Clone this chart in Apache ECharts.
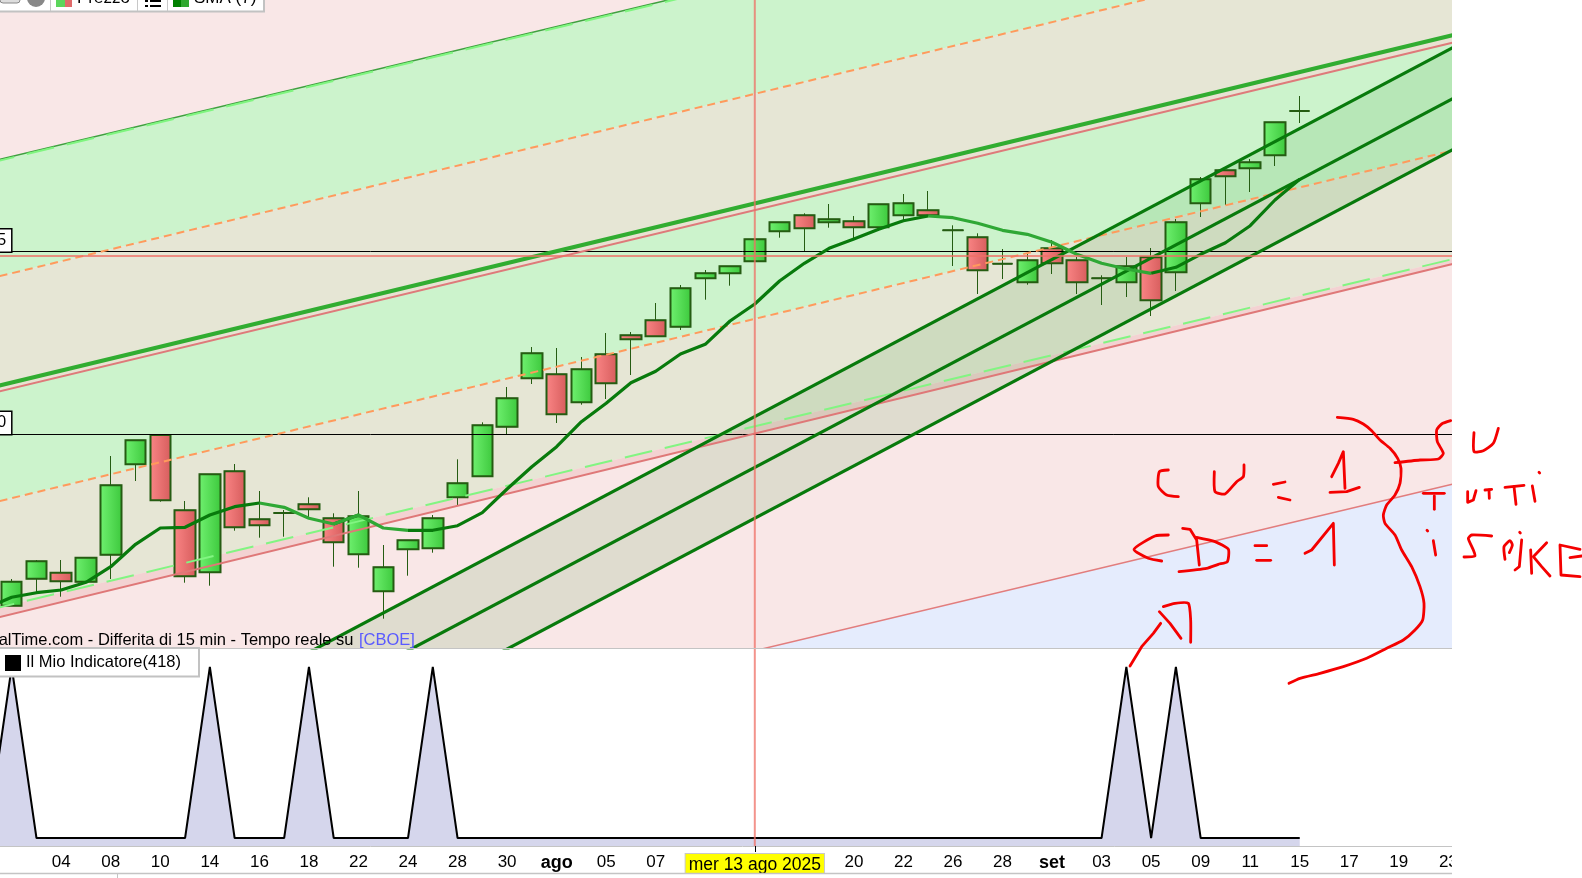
<!DOCTYPE html>
<html><head><meta charset="utf-8">
<script src="https://cdn.jsdelivr.net/npm/echarts@6/dist/echarts.min.js"></script>
<style>html,body{margin:0;padding:0;background:#fff;overflow:hidden}#c{width:1582px;height:878px}</style>
</head><body><div id="c"></div>
<script>
// session labels, first entry sits just left of the visible window
const tickLabels = ['lug','','','04','','08','','10','','14','','16','','18','','22','','24','','28','','30','','ago','','05','','07','','','','mer 13 ago 2025','','','','20','','22','','26','','28','','set','','03','','05','','09','','11','','15','','17','','19','','23',''];
const monthLabels = ['lug','ago','set'];
const crosshairLabel = 'mer 13 ago 2025';
const crosshairIndex = 31;
const lastIndex = 60;

// [open, close, low, high]
const candles = [
[6125,6128,6120,6130],
[6128.3,6152.3,6128.3,6155],[6155.3,6172.7,6141.3,6174],[6161.3,6152.7,6137.3,6174],[6152.3,6176.3,6152.3,6176.3],
[6179.3,6248.7,6155,6278],[6269.7,6293.7,6253,6293.7],[6299,6233.7,6232.3,6299],[6223.7,6157.7,6151.3,6233],
[6161.7,6259.7,6148.3,6259.7],[6262.7,6206.7,6203.3,6270],[6214.7,6208.7,6196.3,6243],[6221,6221,6197.3,6224],
[6229.7,6224.7,6216.7,6236.7],[6215.7,6191.7,6167.3,6220.7],[6179.7,6217.7,6166.3,6243],[6142.7,6166.7,6115.3,6189],
[6184.7,6193.7,6158.3,6193.7],[6185.7,6215.7,6181.3,6219],[6236.7,6250.7,6229,6274.7],[6257.7,6308.7,6257.7,6311.7],
[6307.3,6335.7,6300,6347],[6355.7,6380.7,6350,6387],[6359.7,6319.7,6311,6386],[6331.7,6364.7,6329.3,6377],
[6379.7,6350.7,6335,6401],[6398.7,6394.7,6359,6402],[6413.7,6397.7,6397.7,6431],[6407.3,6445.7,6404,6449],
[6455.7,6460.7,6434.3,6464],[6460.7,6467.7,6448.3,6467.7],[6472.7,6494.7,6472.7,6494.7],[6502.7,6511.7,6496.3,6511.7],
[6518.7,6505.7,6483,6520.7],[6511.7,6514.7,6506.3,6530],[6512.7,6506.7,6495.3,6518],[6506.7,6529.7,6505,6529.7],
[6518.7,6530.7,6514,6540],[6523.7,6518.7,6518.7,6543],[6503.7,6503.7,6468,6508.7],[6496.7,6463.7,6440,6500.7],
[6470.3,6470.3,6455,6485],[6451.7,6473.7,6449.3,6481],[6485.7,6470.7,6460,6494],[6473.7,6451.7,6440,6477],
[6455.7,6455.7,6429,6458.7],[6451.7,6467.7,6437,6477],[6476.7,6433.7,6418,6486],[6461.7,6511.7,6443,6515],
[6530.7,6554.7,6517,6557],[6563.7,6557.7,6529,6563.7],[6565.7,6571.7,6542,6575],[6578.7,6611.7,6568,6611.7],
[6623,6623,6611,6638]];

const sma7 = [6126,6136.7,6141.3,6144,6151.7,6167.3,6189.7,6206,6206.7,6219,6227.3,6231,6226.7,6215.7,6210,6219,6206,6203.7,6203.7,6208.3,6221.3,6245,6267.3,6287.3,6312.3,6330.7,6351.3,6362.7,6380,6389.7,6413,6430,6453,6470.7,6485.7,6495,6504.7,6513.3,6518,6516.3,6510.7,6503.7,6499.7,6491.7,6479.7,6470.7,6465,6460.7,6466.7,6479.7,6491.3,6508.3,6534,6554.7];

const indicator = [0,1,0,0,0,0,0,0,0,1,0,0,0,1,0,0,0,0,1,0,0,0,0,0,0,0,0,0,0,0,0,0,0,0,0,0,0,0,0,0,0,0,0,0,0,0,1,0,1,0,0,0,0,0];

// regression-channel lines: value at first and at last session slot
const topLine = [6571.6,6926];
const orangeUp = [6454.8,6813.5];
const thickLine = [6345.4,6703.8];
const pinkUp = [6339.6,6696.2];
const orangeLow = [6229.9,6588.4];
const greenDash = [6123.6,6479.8];
const pinkLow = [6113.8,6475];
const lowestLine = [5900.1,6254.7];
const channelA = [5911.5,6697.2];
const channelB = [5860.9,6646.1];
const channelC = [5810.3,6595.1];
const floorLine = [4000,4000];

const priceLevels = [6300,6482.5];
const crossPrice = 6478;
const priceMin = 6086, priceMax = 6734;
const indMin = -0.0468, indMax = 1.111;

const GREEN_DARK='#087a0c', GREEN_FALL='#2fa835', BORDER='#255c12';
const grad = (a,b)=>({type:'linear',x:0,y:0,x2:1,y2:0,colorStops:[{offset:0,color:a},{offset:1,color:b}]});
const upFill = grad('#70f170','#3cc83c'), dnFill = grad('#fb8686','#d65c5c');

const bands = [
 [topLine,orangeUp,'#ccf3cc'],
 [orangeUp,thickLine,'#e6e6d5'],
 [thickLine,pinkUp,'#e8e2d2'],
 [pinkUp,orangeLow,'#ccf3cc'],
 [orangeLow,greenDash,'#e6e6d5'],
 [greenDash,pinkLow,'#f3d2d2'],
 [lowestLine,floorLine,'#e5ecfd'],
 [channelA,channelB,'rgba(0,128,0,0.1)'],
 [channelB,channelC,'rgba(0,128,0,0.1)']
];

const trend = (arr,style,z)=>({type:'line',xAxisIndex:0,yAxisIndex:0,symbol:'none',silent:true,animation:false,z:z||5,
  lineStyle:style,data:[[0,arr[0]],[lastIndex,arr[1]]]});

function isUp(i){ // does the SMA segment ending or starting at i rise
  return (i>0 && sma7[i]>=sma7[i-1]) || (i<sma7.length-1 && sma7[i+1]>=sma7[i]);
}
function isDown(i){
  return (i>0 && sma7[i]<sma7[i-1]) || (i<sma7.length-1 && sma7[i+1]<sma7[i]);
}
const smaUp = sma7.map((v,i)=>isUp(i)?v:null);
const smaDown = sma7.map((v,i)=>isDown(i)?v:null);

const z5=pts=>pts.map(p=>[1100+p[0]/3,400+p[1]/3]);
const strokes=[
 [[712,52],[760,58],[790,72],[815,92],[840,120],[870,145],[893,175],[903,205],[900,250],[885,285],[860,315],[850,345],[855,370],[885,405],[905,450],[935,500],[960,560],[972,610],[968,660],[945,690],[910,720],[860,745],[800,775],[730,800],[660,820],[600,835],[567,850]],
 [[885,188],[960,180],[1015,177],[1030,160],[1012,125],[1010,90],[1025,72],[1052,62]],
 [[1122,98],[1122,155],[1150,152],[1180,130],[1195,85]],
 [[970,280],[1033,280]],[[1003,288],[1003,328]],
 [[1103,275],[1103,307],[1120,300],[1128,272]],
 [[1155,270],[1175,268]],[[1167,270],[1168,295]],
 [[1215,262],[1272,256]],[[1242,260],[1248,313]],
 [[1297,258],[1305,304]],[[1317,217],[1319,219]],
 [[981,391],[983,393]],[[1000,422],[1007,465]],
 [[1175,408],[1115,405],[1105,415],[1120,450],[1125,468],[1092,471]],
 [[1215,478],[1212,440],[1230,422],[1237,435],[1228,458]],
 [[1259,397],[1261,399]],[[1265,420],[1258,500],[1245,510]],
 [[1292,450],[1295,520]],[[1340,428],[1300,470],[1325,500],[1350,528]],
 [[1440,448],[1380,435],[1383,525],[1440,530]],[[1410,473],[1445,468]],
 [[205,210],[178,215],[175,260],[200,285],[235,290]],
 [[343,215],[345,275],[375,282],[410,245],[430,230],[432,195]],
 [[520,253],[555,246]],[[535,292],[570,300]],
 [[695,230],[715,190],[730,155],[735,265]],[[690,277],[740,275],[778,262]],
 [[205,405],[165,408],[102,448],[145,475],[185,483]],
 [[248,385],[270,388],[290,420],[298,495]],[[290,412],[345,425],[385,448],[382,485],[355,493],[320,505],[237,515]],
 [[465,437],[500,437]],[[470,481],[512,481]],
 [[615,460],[635,450],[700,370],[703,495]],
 [[90,798],[125,740],[160,700],[182,670]],
 [[190,620],[225,610],[265,610],[272,660],[272,727]],
 [[178,635],[210,670],[243,715]]
];
const FONT='"Liberation Sans", Arial, sans-serif';
const graphicEls=[
 {type:'rect',z:50,shape:{x:1452,y:0,width:130,height:878},style:{fill:'#fff'}},
 {type:'rect',z:51,shape:{x:0,y:873,width:1452,height:5},style:{fill:'#fff'}},
 {type:'line',z:51,shape:{x1:0,y1:873.5,x2:1452,y2:873.5},style:{stroke:'#c4c4c4',lineWidth:1.5}},
 {type:'line',z:51,shape:{x1:117.5,y1:873,x2:117.5,y2:878},style:{stroke:'#c4c4c4',lineWidth:1}},
 {type:'line',z:51,shape:{x1:755.5,y1:846,x2:755.5,y2:852},style:{stroke:'#000',lineWidth:1}},
 // toolbar
 {type:'rect',z:60,shape:{x:-3,y:-10,width:267,height:21.5},style:{fill:'#fff',stroke:'#c2c2c2',lineWidth:2}},
 {type:'rect',z:61,shape:{x:0,y:-4,width:20,height:7,r:3},style:{fill:'#ddd',stroke:'#888',lineWidth:1}},
 {type:'circle',z:61,shape:{cx:36,cy:-2,r:9},style:{fill:'#888'}},
 {type:'line',z:61,shape:{x1:50.5,y1:0,x2:50.5,y2:11},style:{stroke:'#c8c8c8',lineWidth:1}},
 {type:'line',z:61,shape:{x1:137.5,y1:0,x2:137.5,y2:11},style:{stroke:'#c8c8c8',lineWidth:1}},
 {type:'line',z:61,shape:{x1:167.5,y1:0,x2:167.5,y2:11},style:{stroke:'#c8c8c8',lineWidth:1}},
 {type:'rect',z:61,shape:{x:56,y:0,width:9,height:7},style:{fill:'#5cd65c'}},
 {type:'rect',z:61,shape:{x:65,y:0,width:7,height:7},style:{fill:'#e06a6a'}},
 {type:'text',z:61,style:{x:77,y:7,text:'Prezzo',font:'17px '+FONT,fill:'#000',verticalAlign:'bottom'}},
 {type:'rect',z:61,shape:{x:145,y:0,width:3,height:2},style:{fill:'#000'}},
 {type:'rect',z:61,shape:{x:150,y:0,width:11,height:2},style:{fill:'#000'}},
 {type:'rect',z:61,shape:{x:145,y:5,width:3,height:2},style:{fill:'#000'}},
 {type:'rect',z:61,shape:{x:150,y:5,width:11,height:2},style:{fill:'#000'}},
 {type:'rect',z:61,shape:{x:173,y:0,width:8,height:7},style:{fill:'#008000'}},
 {type:'rect',z:61,shape:{x:181,y:0,width:8,height:7},style:{fill:'#2fa82f'}},
 {type:'text',z:61,style:{x:194,y:7,text:'SMA (7)',font:'17px '+FONT,fill:'#000',verticalAlign:'bottom'}},
 // source line
 {type:'text',z:20,style:{x:353.5,y:640.5,text:'ProRealTime.com - Differita di 15 min - Tempo reale su',font:'16.5px '+FONT,fill:'#000',align:'right',verticalAlign:'middle'}},
 {type:'text',z:20,style:{x:359,y:640.5,text:'[CBOE]',font:'16.5px '+FONT,fill:'#5a5aff',align:'left',verticalAlign:'middle'}},
 // indicator legend
 {type:'rect',z:60,shape:{x:-3,y:648,width:202,height:28.5},style:{fill:'#fff',stroke:'#c2c2c2',lineWidth:2}},
 {type:'rect',z:61,shape:{x:5,y:655,width:16,height:16},style:{fill:'#000'}},
 {type:'text',z:61,style:{x:26,y:662,text:'Il Mio Indicatore(418)',font:'16.5px '+FONT,fill:'#000',verticalAlign:'middle'}},
 // pane divider
 {type:'line',z:19,shape:{x1:0,y1:648.5,x2:1452,y2:648.5},style:{stroke:'#c4c4c4',lineWidth:1}}
].concat(strokes.map(s=>({type:'polyline',z:70,shape:{points:z5(s),smooth:s.length>4?0.2:0},
  style:{stroke:'#f40000',lineWidth:2.8,fill:'none',lineCap:'round',lineJoin:'round'}})));

const option={
 animation:false,
 backgroundColor:'#fff',
 grid:[
  {left:-25.455,top:0,width:61*24.77,height:648,show:true,backgroundColor:'#f9e7e7',borderWidth:0,outerBoundsMode:'none',containLabel:false},
  {left:-25.455,top:648,width:61*24.77,height:198,show:false,outerBoundsMode:'none',containLabel:false}
 ],
 xAxis:[
  {type:'category',gridIndex:0,data:tickLabels,boundaryGap:true,show:false},
  {type:'category',gridIndex:1,data:tickLabels,boundaryGap:true,
   axisLine:{onZero:false,lineStyle:{color:'#c4c4c4',width:1}},
   axisTick:{alignWithLabel:true,length:6,interval:i=>i%2===1,lineStyle:{color:'#c4c4c4'}},
   splitLine:{show:false},
   axisLabel:{interval:0,margin:8,fontFamily:'Liberation Sans',fontSize:17,color:'#000',
    formatter:v=>{
      if(v===crosshairLabel) return '{hl|'+v+'}';
      if(monthLabels.indexOf(v)>=0) return '{b|'+v+'}';
      return v;
    },
    rich:{b:{fontWeight:'bold',fontSize:18,fontFamily:'Liberation Sans',color:'#000'},
      hl:{backgroundColor:'#ffff00',borderColor:'#c8c8c8',borderWidth:1,padding:[2,3,1,3],fontSize:17.5,fontFamily:'Liberation Sans',color:'#000'}}}}
 ],
 yAxis:[
  {type:'value',gridIndex:0,min:priceMin,max:priceMax,axisLine:{show:false},axisTick:{show:false,customValues:priceLevels},
   splitLine:{show:true,customValues:priceLevels,lineStyle:{color:'#000',width:1}},z:4,
   axisLabel:{show:true,inside:true,customValues:priceLevels,margin:36.5,align:'right',verticalAlign:'bottom',
     formatter:v=>String(v),
     fontFamily:'Liberation Sans',fontSize:16,color:'#000',backgroundColor:'#fff',borderColor:'#000',borderWidth:1.5,padding:[2,5,2,3],lineHeight:18}},
  {type:'value',gridIndex:1,min:indMin,max:indMax,show:false,splitLine:{show:false}}
 ],
 graphic:{elements:graphicEls},
 series:[
  {type:'custom',name:'bands',xAxisIndex:0,yAxisIndex:0,z:1,clip:true,silent:true,
   data:bands.map((b,i)=>[i,6400]),
   renderItem:(p,api)=>{
     const b=bands[p.dataIndex];
     const pts=[[0,b[0][0]],[lastIndex,b[0][1]],[lastIndex,b[1][1]],[0,b[1][0]]].map(c=>api.coord(c));
     return {type:'polygon',shape:{points:pts},style:{fill:b[2]}};
   }},
  {type:'candlestick',name:'wicks',xAxisIndex:0,yAxisIndex:0,z:3,barWidth:21,silent:true,
   itemStyle:{color:upFill,color0:dnFill,borderColor:BORDER,borderColor0:BORDER,borderColorDoji:BORDER,borderWidth:1},
   data:candles},
  {type:'candlestick',name:'Prezzo',xAxisIndex:0,yAxisIndex:0,z:3,barWidth:21,silent:true,
   itemStyle:{color:upFill,color0:dnFill,borderColor:BORDER,borderColor0:BORDER,borderColorDoji:BORDER,borderWidth:2},
   data:candles.map(c=>[c[0],c[1],Math.min(c[0],c[1]),Math.max(c[0],c[1])])},
  trend(topLine,{color:'#3f9f3f',width:1.5}),
  trend(topLine.map(v=>v-1.2),{color:'#7ff57f',width:2,type:[28,13]}),
  trend(orangeUp,{color:'#ff9a5c',width:2,type:[8,5]}),
  trend(orangeLow,{color:'#ff9a5c',width:2,type:[8,5]}),
  trend(pinkUp,{color:'#de7a7a',width:2}),
  trend(thickLine,{color:'#31ad31',width:4.2}),
  trend(greenDash,{color:'#82f582',width:2,type:[28,13]}),
  trend(pinkLow,{color:'#df7878',width:2}),
  trend(lowestLine,{color:'#e27d7d',width:1.5}),
  trend(channelA,{color:GREEN_DARK,width:3.2}),
  trend(channelB,{color:GREEN_DARK,width:3.2}),
  trend(channelC,{color:GREEN_DARK,width:3.2}),
  {type:'line',name:'SMA (7)',xAxisIndex:0,yAxisIndex:0,z:6,symbol:'none',silent:true,data:smaUp,connectNulls:false,
   lineStyle:{color:GREEN_DARK,width:3.2}},
  {type:'line',name:'SMA (7) falling',xAxisIndex:0,yAxisIndex:0,z:6,symbol:'none',silent:true,data:smaDown,connectNulls:false,
   lineStyle:{color:GREEN_FALL,width:3.2}},
  {type:'line',name:'cross h',xAxisIndex:0,yAxisIndex:0,z:7,symbol:'none',silent:true,
   data:[[0,crossPrice],[lastIndex,crossPrice]],lineStyle:{color:'#ef6f66',opacity:0.75,width:2}},
  {type:'line',name:'cross v',xAxisIndex:0,yAxisIndex:0,z:7,symbol:'none',silent:true,
   data:[[crosshairIndex,priceMin],[crosshairIndex,priceMax]],lineStyle:{color:'#ef6f66',opacity:0.75,width:2}},
  {type:'line',name:'Il Mio Indicatore',xAxisIndex:1,yAxisIndex:1,z:3,symbol:'none',silent:true,data:indicator,
   lineStyle:{color:'#000',width:2},areaStyle:{color:'#d5d6ec',opacity:1,origin:'start'}},
  {type:'line',name:'cross v2',xAxisIndex:1,yAxisIndex:1,z:7,symbol:'none',silent:true,
   data:[[crosshairIndex,indMin],[crosshairIndex,indMax]],lineStyle:{color:'#ef6f66',opacity:0.75,width:2}}
 ]
};
echarts.init(document.getElementById('c'),null,{renderer:'canvas'}).setOption(option);
</script></body></html>
